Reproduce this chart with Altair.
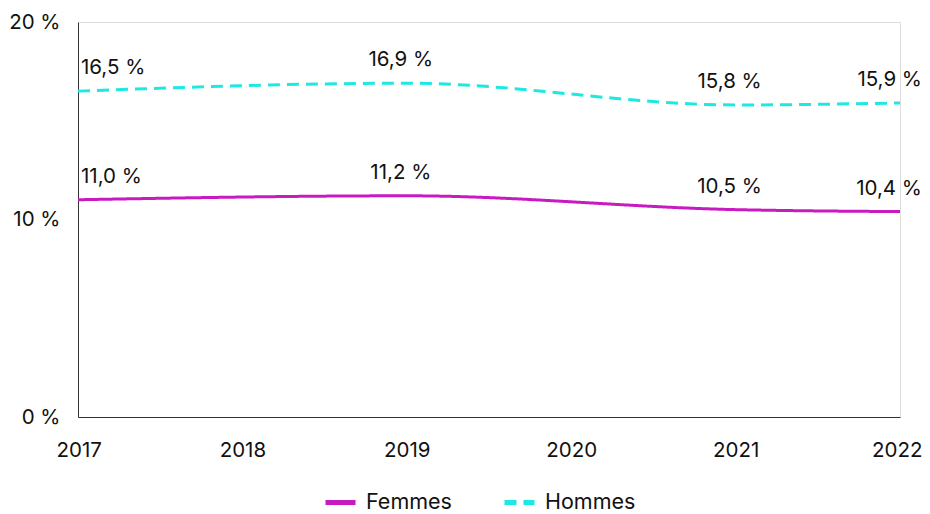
import altair as alt
import pandas as pd

years = [2017, 2019, 2021, 2022]
femmes = [11.0, 11.2, 10.5, 10.4]
hommes = [16.5, 16.9, 15.8, 15.9]
series = ["Femmes", "Hommes"]
colors = ["#C81AC1", "#1EE8E2"]
x_ticks = [2017, 2018, 2019, 2020, 2021, 2022]
y_ticks = [0, 10, 20]

rows = []
for name, vals in zip(series, [femmes, hommes]):
    for y, v in zip(years, vals):
        rows.append({"Année": y, "Valeur": v, "Série": name,
                     "Label": f"{v:.1f}".replace(".", ",") + " %"})
df = pd.DataFrame(rows)

FONT = "Inter"
FS = 20.5

x = alt.X("Année:Q", scale=alt.Scale(domain=[2017, 2022], nice=False, zero=False),
          axis=alt.Axis(values=x_ticks, format="d", title=None,
                        ticks=False, grid=False, labelPadding=23, labelFontSize=FS,
                        labelColor="#111", domainColor="#333",
                        labelFlush=True, labelFlushOffset=22))
y = alt.Y("Valeur:Q", scale=alt.Scale(domain=[0, 20], nice=False),
          axis=alt.Axis(values=y_ticks, labelExpr="datum.value + ' %'", title=None,
                        ticks=False, grid=False, labelPadding=18, labelFontSize=FS,
                        labelColor="#111", domainColor="#333", minExtent=68))

base = alt.Chart(df)

lines = base.mark_line(strokeWidth=3, interpolate="monotone").encode(
    x=x, y=y,
    color=alt.Color("Série:N", scale=alt.Scale(domain=series, range=colors),
                    legend=alt.Legend(orient="none", direction="horizontal", title=None,
                                      legendX=245, legendY=463, padding=0,
                                      symbolType="stroke", symbolStrokeWidth=5, symbolSize=900,
                                      labelFontSize=21.5, labelColor="#111", columnPadding=42,
                                      labelOffset=8)),
    strokeDash=alt.StrokeDash("Série:N", scale=alt.Scale(domain=series, range=[[1, 0], [12, 7]]),
                              legend=None),
)

labels_first = base.mark_text(align="left", dx=3, dy=-23, fontSize=FS, color="#111").encode(
    x=x, y=y, text="Label:N"
).transform_filter(alt.datum["Année"] == 2017)

labels_mid = base.mark_text(align="center", dx=-6, dy=-23, fontSize=FS, color="#111").encode(
    x=x, y=y, text="Label:N"
).transform_filter((alt.datum["Année"] > 2017) & (alt.datum["Année"] < 2022))

labels_last = base.mark_text(align="right", dx=22, dy=-23, fontSize=FS, color="#111").encode(
    x=x, y=y, text="Label:N"
).transform_filter(alt.datum["Année"] == 2022)

chart = alt.layer(lines, labels_first, labels_mid, labels_last).properties(
    width=914, height=395,
    autosize=alt.AutoSizeParams(type="fit-x", contains="padding"),
    padding={"left": 0, "top": 4, "right": 0, "bottom": 52}
).configure_view(stroke=None).configure(font=FONT)

chart.save("out.html", embed_options={"renderer": "svg", "actions": False})
